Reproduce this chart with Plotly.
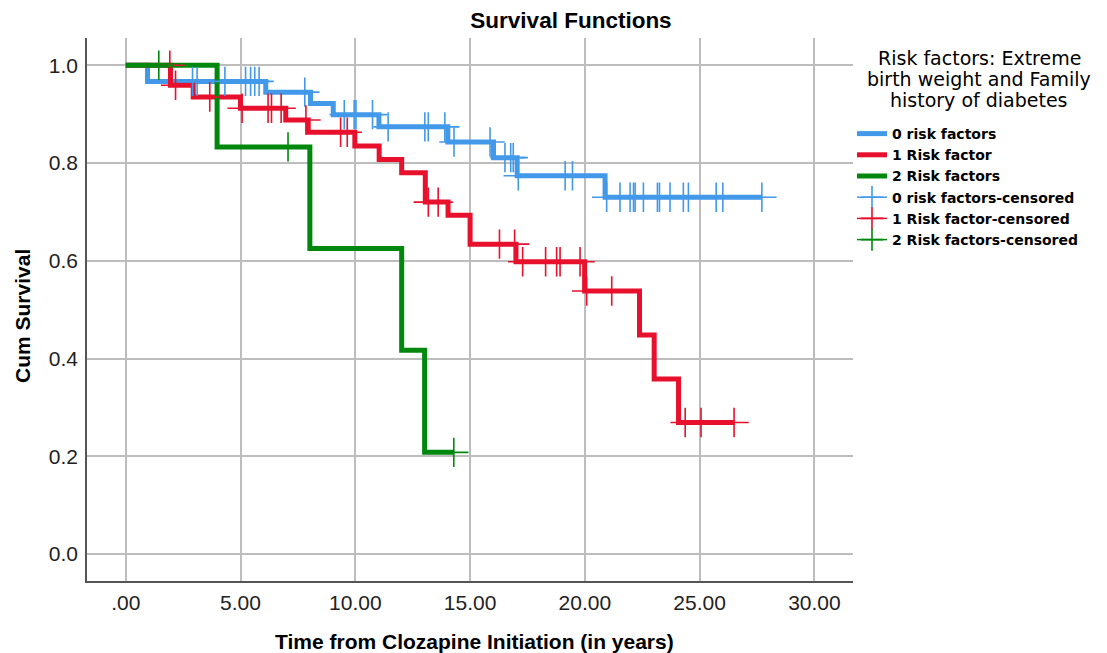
import plotly.graph_objects as go

# ---- data ----
group_names = ["0 risk factors", "1 Risk factor", "2 Risk factors"]
censor_names = ["0 risk factors-censored", "1 Risk factor-censored", "2 Risk factors-censored"]
colors = ["#4399E9", "#E8112D", "#00880E"]

blue_event_times = [0.95, 6.10, 8.05, 9.04, 11.03, 14.03, 16.02, 17.05, 20.88]
blue_surv = [0.967, 0.945, 0.922, 0.899, 0.874, 0.843, 0.811, 0.774, 0.730]
blue_censored = [2.91, 3.11, 4.32, 5.22, 5.44, 5.62, 5.81, 7.80, 9.52, 9.95, 10.03,
                 10.75, 11.43, 13.03, 13.18, 13.90, 14.30, 15.87, 16.52, 16.77, 16.88,
                 17.10, 19.14, 19.46, 20.95, 21.53, 21.97, 22.12, 22.19, 22.55, 23.16,
                 23.25, 23.71, 24.29, 24.51, 25.72, 26.01, 27.71]

red_event_times = [1.95, 2.94, 5.00, 6.97, 7.95, 9.98, 11.04, 12.02, 13.05, 14.04,
                   15.00, 17.00, 19.99, 22.38, 23.02, 24.08]
red_surv = [0.959, 0.935, 0.912, 0.888, 0.863, 0.835, 0.807, 0.780, 0.720, 0.693,
            0.634, 0.598, 0.538, 0.448, 0.358, 0.269]
red_censored = [1.92, 2.17, 3.66, 5.07, 6.20, 6.35, 6.77, 7.85, 9.36, 9.65, 13.18,
                13.61, 16.28, 16.94, 17.29, 18.29, 18.77, 18.92, 19.79, 20.08, 21.17,
                24.37, 25.06, 26.50]

green_event_times = [3.98, 8.02, 12.02, 13.02]
green_surv = [0.833, 0.625, 0.417, 0.208]
green_censored = [1.44, 7.07, 14.29]

x_tick_vals = [0, 5, 10, 15, 20, 25, 30]
x_tick_text = [".00", "5.00", "10.00", "15.00", "20.00", "25.00", "30.00"]
y_tick_vals = [0.0, 0.2, 0.4, 0.6, 0.8, 1.0]
y_tick_text = ["0.0", "0.2", "0.4", "0.6", "0.8", "1.0"]

legend_title_lines = ["Risk factors: Extreme", "birth weight and Family", "history of diabetes"]


def surv_at(times, surv, t):
    s = 1.0
    for et, sv in zip(times, surv):
        if et <= t:
            s = sv
    return s


groups = [
    (blue_event_times, blue_surv, blue_censored),
    (red_event_times, red_surv, red_censored),
    (green_event_times, green_surv, green_censored),
]

fig = go.Figure()

# step curves
for (times, surv, cens), name, col in zip(groups, group_names, colors):
    end = max(cens + times)
    xs = [0] + times + [end]
    ys = [1.0] + surv + [surv[-1]]
    fig.add_trace(go.Scatter(
        x=xs, y=ys, mode="lines", line=dict(shape="hv", color=col, width=5),
        name=name, hoverinfo="skip"))

# censored marks
for (times, surv, cens), name, col in zip(groups, censor_names, colors):
    xs, ys = [], []
    for t in cens:
        xs += [t, None]
        ys += [surv_at(times, surv, t), None]
    fig.add_trace(go.Scatter(
        x=xs, y=ys, mode="lines+markers",
        line=dict(color=col, width=1.5),
        marker=dict(symbol="cross-thin", size=21, line=dict(color=col, width=1.6)),
        name=name, hoverinfo="skip"))

# page offset of the plot div (body margin) compensated here
OFF = 8
SW, SH = 1107, 653
W, H = SW - OFF, SH - OFF
PL, PR, PT, PB = 87, 853, 38, 581          # plot area in screen pixels
L, T = PL - OFF, PT - OFF
R, B = SW - PR, SH - PB
plot_w = PR - PL
plot_h = PB - PT


def px_x(sx):
    return (sx - PL) / plot_w


def px_y(sy):
    return (PB - sy) / plot_h


annotations = [
    dict(text="Time from Clozapine Initiation (in years)", xref="paper", yref="paper",
         x=px_x(474), y=px_y(641.5), xanchor="center", yanchor="middle",
         showarrow=False, font=dict(size=21, weight="bold", color="#000")),
    dict(text="Cum Survival", xref="paper", yref="paper", textangle=-90,
         x=px_x(22), y=px_y(316), xanchor="center", yanchor="middle",
         showarrow=False, font=dict(size=21, weight="bold", color="#000")),
]
for i, line in enumerate(legend_title_lines):
    annotations.append(dict(
        text=line, xref="paper", yref="paper", x=px_x(979), y=px_y(58 + 21 * i),
        xanchor="center", yanchor="middle", showarrow=False,
        font=dict(family="DejaVu Sans", size=19, color="#000")))

fig.update_layout(
    width=W, height=H,
    margin=dict(l=L, r=R, t=T, b=B, autoexpand=False),
    paper_bgcolor="white", plot_bgcolor="white",
    font=dict(family="Liberation Sans, Arial, sans-serif", color="#111"),
    title=dict(text="Survival Functions", x=(571 - OFF) / W, xref="container", xanchor="center",
               y=1 - (20 - OFF) / H, yref="container", yanchor="middle",
               font=dict(size=22.5, weight="bold", color="#000")),
    showlegend=True,
    legend=dict(
        x=px_x(852), xanchor="left", y=px_y(118), yanchor="top",
        bgcolor="rgba(0,0,0,0)",
        font=dict(family="DejaVu Sans", size=14, weight="bold", color="#000"),
        tracegroupgap=0,
    ),
    xaxis=dict(
        range=[-1.687, 31.68], tickvals=x_tick_vals, ticktext=x_tick_text,
        showgrid=True, gridcolor="#BDBDBD", gridwidth=1.5,
        showline=True, linecolor="#555", linewidth=1.5, mirror=False,
        zeroline=False, ticks="", ticklabelstandoff=2,
        tickfont=dict(size=21, color="#222"),
    ),
    yaxis=dict(
        range=[-0.0552, 1.0558], tickvals=y_tick_vals, ticktext=y_tick_text,
        showgrid=True, gridcolor="#BDBDBD", gridwidth=1.5,
        showline=True, linecolor="#555", linewidth=1.5, mirror=False,
        zeroline=False, ticks="", ticklabelstandoff=3,
        tickfont=dict(size=21, color="#222"),
    ),
    annotations=annotations,
)

fig.write_html("out.html")
